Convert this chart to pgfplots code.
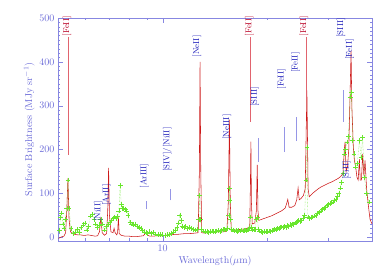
\documentclass[border=0pt]{standalone}
\usepackage{pgfplots}
\pgfplotsset{compat=1.18}
\definecolor{axiscol}{RGB}{135,135,225}
\definecolor{labcol}{RGB}{105,105,215}
\definecolor{idblue}{RGB}{25,25,185}
\definecolor{idred}{RGB}{185,0,35}
\definecolor{specred}{RGB}{205,25,25}
\definecolor{markred}{RGB}{225,100,110}
\definecolor{markblue}{RGB}{150,150,230}
\definecolor{specgreen}{RGB}{105,230,45}
\begin{document}
\begin{tikzpicture}
\begin{axis}[
  scale only axis, width=314pt, height=223pt,
  xmode=log, log basis x=10, xmin=5.0, xmax=40,
  ymin=-9, ymax=500,
  xtick={10}, xticklabels={10},
  minor xtick={6,7,8,9,20,30},
  ytick={0,100,200,300,400,500},
  minor y tick num=9,
  major tick length=5pt, minor tick length=2.5pt,
  axis line style={color=axiscol},
  tick style={color=axiscol},
  ticklabel style={color=labcol, font=\fontsize{10}{12}\selectfont},
  label style={color=labcol, font=\fontsize{10}{12}\selectfont},
  xlabel={Wavelength($\mu$m)},
  ylabel={Surface Brightness (MJy sr$^{-1}$)},
  xlabel style={yshift=2pt},
  ylabel style={yshift=-2pt},
  clip mode=individual,
]
% red spectrum
\addplot[color=specred, line width=0.55pt] coordinates {
(5.02,-3)(5.1,0)(5.2,2)(5.26,10)(5.3,60)(5.34,134)(5.38,40)(5.43,12)(5.5,8)(5.6,6)
(5.7,5)(5.8,5)(5.9,4)(6.0,4)(6.1,5)(6.2,4)(6.3,3)(6.4,2)(6.5,3)(6.58,12)(6.64,45)
(6.7,10)(6.8,4)(6.9,8)(6.95,60)(6.99,158)(7.03,50)(7.1,12)(7.2,10)(7.25,20)(7.3,10)
(7.38,5)(7.42,10)(7.46,45)(7.5,8)(7.6,4)(7.7,3)(7.8,2)(8.0,2)(8.2,1)(8.4,1)(8.6,2)
(8.8,3)(8.95,10)(9.0,12)(9.05,4)(9.2,2)(9.4,2)(9.6,3)(9.8,3)(10.0,3)(10.2,4)(10.5,5)
(10.8,6)(11.0,6)(11.3,7)(11.6,8)(12.0,8)(12.4,9)(12.65,10)(12.75,150)(12.81,400)
(12.87,150)(12.95,10)(13.2,9)(13.5,10)(14.0,11)(14.5,12)(15.0,12)(15.3,14)(15.45,80)
(15.56,268)(15.65,80)(15.75,15)(16.0,16)(16.5,17)(17.0,18)(17.5,20)(17.8,24)(17.88,120)
(17.94,218)(18.0,80)(18.1,30)(18.4,32)(18.6,60)(18.71,165)(18.8,60)(18.9,38)(19.5,42)
(20.0,45)(20.5,48)(21.0,52)(21.5,56)(22.0,60)(22.5,66)(22.7,75)(22.9,86)(23.1,68)
(23.5,68)(24.0,72)(24.3,85)(24.52,112)(24.7,85)(25.0,88)(25.4,95)(25.7,110)(25.99,335)
(26.2,110)(26.4,92)(27.0,100)(27.5,105)(28.0,110)(28.5,114)(29.0,117)(29.5,120)
(30.0,123)(30.5,125)(31.0,128)(31.5,131)(32.0,134)(32.5,138)(33.0,145)(33.3,200)
(33.48,218)(33.7,150)(34.0,160)(34.3,200)(34.6,330)(34.82,425)(35.0,300)(35.35,205)
(35.6,175)(35.9,160)(36.2,137)(36.5,130)(36.8,178)(37.0,130)(37.3,130)(37.6,190)
(37.9,140)(38.2,175)(38.6,110)(39.1,68)(39.5,40)(40,30)
};
% green spectrum
\addplot[color=specgreen, densely dotted, line width=0.4pt,
  mark=+, mark size=2.4pt, mark options={solid, line width=0.5pt}] coordinates {
(5.05,15)(5.08,45)(5.12,55)(5.16,30)(5.2,20)(5.25,40)(5.30,65)(5.34,130)(5.38,66)
(5.45,20)(5.52,8)(5.6,12)(5.68,18)(5.75,10)(5.82,22)(5.9,28)(5.97,32)(6.05,16)(6.12,25)
(6.2,48)(6.28,52)(6.35,40)(6.42,30)(6.5,22)(6.58,28)(6.64,40)(6.72,30)(6.8,16)(6.9,25)
(6.98,30)(7.05,34)(7.12,38)(7.2,42)(7.28,46)(7.35,42)(7.42,48)(7.48,60)(7.55,118)
(7.6,75)(7.65,66)(7.72,66)(7.8,64)(7.88,60)(7.95,50)(8.05,33)(8.15,30)(8.25,28)(8.35,30)
(8.45,25)(8.55,22)(8.65,20)(8.75,16)(8.85,12)(8.95,10)(9.05,8)(9.15,12)(9.25,9)(9.4,10)
(9.55,7)(9.7,5)(9.85,6)(10.0,5)(10.15,4)(10.3,5)(10.45,6)(10.6,9)(10.75,12)(10.9,16)
(11.0,22)(11.1,32)(11.2,50)(11.3,38)(11.4,25)(11.5,22)(11.65,24)(11.8,20)(11.95,22)
(12.1,20)(12.25,18)(12.4,16)(12.55,17)(12.7,40)(12.78,95)(12.85,40)(12.95,18)(13.1,14)
(13.25,12)(13.4,13)(13.55,11)(13.7,12)(13.85,14)(14.0,13)(14.15,12)(14.3,14)(14.45,15)
(14.6,13)(14.75,15)(14.9,17)(15.05,18)(15.2,16)(15.35,20)(15.5,50)(15.55,111)(15.6,84)
(15.65,40)(15.8,18)(15.95,16)(16.1,14)(16.25,15)(16.4,13)(16.55,15)(16.7,14)(16.85,16)
(17.0,14)(17.15,15)(17.3,16)(17.45,14)(17.6,17)(17.75,20)(17.9,46)(18.0,22)(18.15,16)
(18.3,17)(18.45,18)(18.6,40)(18.72,46)(18.85,18)(19.0,14)(19.2,12)(19.4,11)(19.6,12)
(19.8,13)(20.0,12)(20.2,14)(20.4,13)(20.6,15)(20.8,16)(21.0,18)(21.2,17)(21.4,20)
(21.6,19)(21.8,22)(22.0,23)(22.2,22)(22.4,24)(22.6,22)(22.8,26)(23.0,25)(23.2,28)
(23.4,27)(23.6,30)(23.8,29)(24.0,32)(24.2,33)(24.4,36)(24.6,38)(24.8,35)(25.0,38)
(25.3,42)(25.6,50)(25.85,130)(26.0,205)(26.15,46)(26.4,42)(26.7,44)(27.0,46)(27.3,48)
(27.6,50)(27.9,54)(28.2,56)(28.5,60)(28.8,63)(29.1,66)(29.4,68)(29.7,72)(30.0,74)
(30.3,76)(30.6,78)(30.9,80)(31.2,84)(31.5,86)(31.8,92)(32.1,100)(32.4,112)(32.7,125)
(33.0,145)(33.3,190)(33.6,200)(33.9,217)(34.2,230)(34.6,320)(34.9,330)(35.2,220)
(35.5,190)(35.9,160)(36.3,168)(36.8,220)(37.2,182)(37.6,228)(38.0,136)(38.6,100)(39.3,80)
};
% red marker lines
\addplot[color=markred, line width=0.6pt] coordinates {(5.37,457)(5.37,187)};
\addplot[color=markred, line width=0.6pt] coordinates {(17.9,457)(17.9,263)};
\addplot[color=markred, line width=0.6pt] coordinates {(25.9,457)(25.9,313)};
% blue marker lines
\addplot[color=markblue, line width=0.6pt] coordinates {(8.97,64)(8.97,82)};
\addplot[color=markblue, line width=0.6pt] coordinates {(10.51,84)(10.51,110)};
\addplot[color=markblue, line width=0.6pt] coordinates {(18.78,171)(18.78,226)};
\addplot[color=markblue, line width=0.6pt] coordinates {(22.44,194)(22.44,251)};
\addplot[color=markblue, line width=0.6pt] coordinates {(24.3,219)(24.3,274)};
\addplot[color=markblue, line width=0.6pt] coordinates {(33.1,263)(33.1,336)};
% line identifications
\begin{scope}[every node/.style={rotate=90, anchor=west, inner sep=0.3pt,
   font=\fontsize{8.5}{10}\selectfont}]
\node[text=idred] at (axis cs:5.31,457) {[FeII]};
\node[text=idblue] at (axis cs:6.53,34) {[NiII]};
\node[text=idblue] at (axis cs:6.89,70) {[ArII]};
\node[text=idblue] at (axis cs:8.85,110) {[ArIII]};
\node[text=idblue] at (axis cs:10.3,148) {[SIV]/[NiII]};
\node[text=idblue] at (axis cs:12.55,409) {[NeII]};
\node[text=idblue] at (axis cs:15.3,221) {[NeIII]};
\node[text=idred] at (axis cs:17.75,457) {[FeII]};
\node[text=idblue] at (axis cs:18.4,297) {[SIII]};
\node[text=idblue] at (axis cs:21.97,336) {[FeII]};
\node[text=idblue] at (axis cs:24.1,374) {[FeII]};
\node[text=idred] at (axis cs:25.5,457) {[FeII]};
\node[text=idblue] at (axis cs:32.6,454) {[SIII]};
\node[text=idblue] at (axis cs:34.5,404) {[FeII]};
\node[text=idblue] at (axis cs:33.8,130) {[SiII]};
\end{scope}
\end{axis}
\pgfresetboundingbox
\useasboundingbox ([xshift=-58pt,yshift=-37pt]current axis.south west) rectangle ([xshift=17pt,yshift=18pt]current axis.north east);
\end{tikzpicture}
\end{document}
